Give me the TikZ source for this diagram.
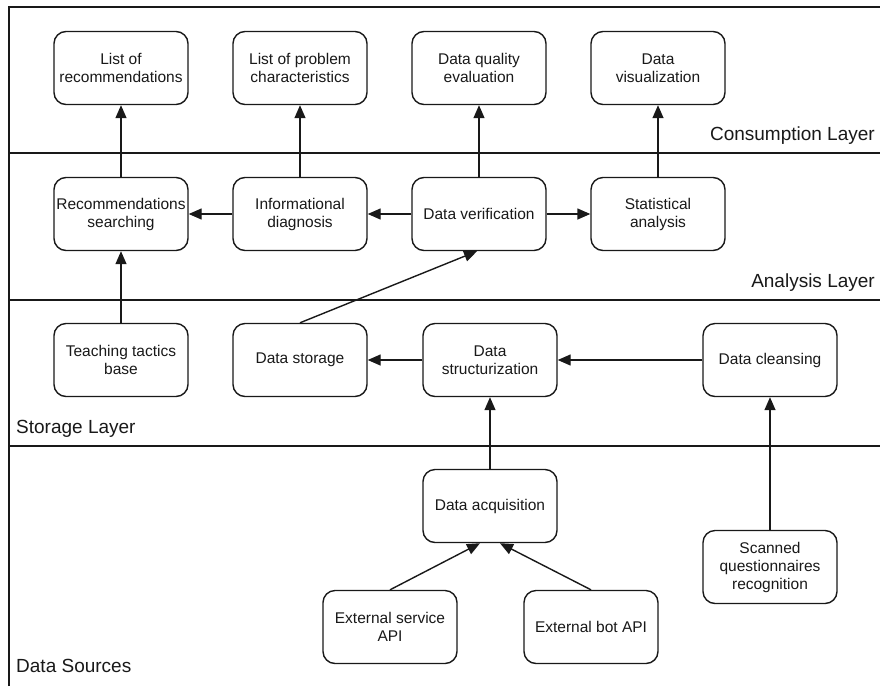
\documentclass[tikz,border=0pt]{standalone}
\usepackage{fontspec}
\setmainfont{Liberation Sans}
\usetikzlibrary{arrows.meta}
\begin{document}
\begin{tikzpicture}[x=1pt,y=-1pt,
  box/.style={draw=black!90, line width=1.4pt, rounded corners=12pt,
    minimum width=134pt, minimum height=73pt, align=center, inner sep=2pt,
    font=\fontsize{15.5}{18}\selectfont, text=black!90},
  conn/.style={line width=1.4pt, draw=black!90,
    -{Triangle[length=13pt,width=11pt]}},
  layerline/.style={line width=2.8pt, draw=black!90},
  layerlabel/.style={font=\fontsize{19}{22}\selectfont, text=black!90, inner sep=0pt}]
\useasboundingbox (0,0) rectangle (880,686);
\fill[white] (0,0) rectangle (880,686);

% frame and layer separators
\draw[layerline] (9,686) -- (9,7) -- (880,7);
\draw[layerline] (9,153) -- (880,153);
\draw[layerline] (9,300) -- (880,300);
\draw[layerline] (9,446) -- (880,446);

% layer captions
\node[layerlabel, anchor=base east] (lcons) at (875,140) {Consumption Layer};
\node[layerlabel, anchor=base east] (lanal) at (875,287) {Analysis Layer};
\node[layerlabel, anchor=base west] (lstor) at (16,433) {Storage Layer};
\node[layerlabel, anchor=base west] (lsrc)  at (16,672) {Data Sources};

% consumption layer
\node[box] (listrec)  at (121,68) {List of\\recommendations};
\node[box] (listprob) at (300,68) {List of problem\\characteristics};
\node[box] (quality)  at (479,68) {Data quality\\evaluation};
\node[box] (visual)   at (658,68) {Data\\visualization};

% analysis layer
\node[box] (recsearch) at (121,214) {Recommendations\\searching};
\node[box] (infodiag)  at (300,214) {Informational\\diagnosis};
\node[box] (verif)     at (479,214) {Data verification};
\node[box] (stat)      at (658,214) {Statistical\\analysis};

% storage layer
\node[box] (tactics)  at (121,360) {Teaching tactics\\base};
\node[box] (storage)  at (300,360) {Data storage};
\node[box] (struct)   at (490,360) {Data\\structurization};
\node[box] (cleansing) at (770,360) {Data cleansing};

% data sources
\node[box] (acq)     at (490,506) {Data acquisition};
\node[box] (extserv) at (390,627) {External service\\API};
\node[box] (extbot)  at (591,627) {External bot API};
\node[box] (scanned) at (770,567) {Scanned\\questionnaires\\recognition};

% connectors
\draw[conn] (recsearch) -- (listrec);
\draw[conn] (infodiag) -- (listprob);
\draw[conn] (verif) -- (quality);
\draw[conn] (stat) -- (visual);
\draw[conn] (infodiag) -- (recsearch);
\draw[conn] (verif) -- (infodiag);
\draw[conn] (verif) -- (stat);
\draw[conn] (tactics) -- (recsearch);
\draw[conn] (storage.north) -- ([xshift=-2pt]verif.south);
\draw[conn] (struct) -- (storage);
\draw[conn] (cleansing) -- (struct);
\draw[conn] (acq) -- (struct);
\draw[conn] (scanned) -- (cleansing);
\draw[conn] (extserv.north) -- ([xshift=-10pt]acq.south);
\draw[conn] (extbot.north) -- ([xshift=10pt]acq.south);
\end{tikzpicture}
\end{document}
